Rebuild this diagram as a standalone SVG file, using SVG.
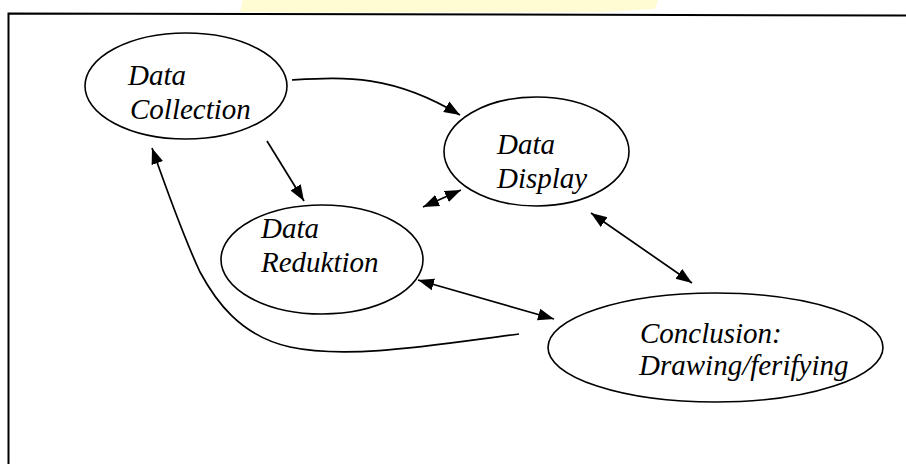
<svg xmlns="http://www.w3.org/2000/svg" width="906" height="464" viewBox="0 0 906 464">
<style>
.node ellipse{fill:none;stroke:#000;stroke-width:1.6}
.node text{font-family:'Liberation Serif','Times New Roman',serif;font-style:italic;font-size:29px;fill:#000}
.conn path{fill:none;stroke:#000;stroke-width:1.7}
</style>
<defs>
<marker id="ah" markerUnits="userSpaceOnUse" markerWidth="18" markerHeight="14" refX="16" refY="7" orient="auto-start-reverse" viewBox="0 0 18 14">
<path d="M0,1 L16,7 L0,13 Z" fill="#000"/>
</marker>
</defs>
<rect width="906" height="464" fill="#fff"/>
<polygon points="243,0 658,0 655,9 600,12 300,12.5 240,12" fill="#fffbd2"/>
<g id="frame" fill="none" stroke="#000" stroke-width="2">
<path d="M8.5,464 L8.5,13.5 L906,15.5"/>
</g>
<g id="n-collection" class="node">
<ellipse cx="186" cy="86" rx="101" ry="53"/>
<text x="128" y="85">Data</text>
<text x="130" y="119">Collection</text>
</g>
<g id="n-display" class="node">
<ellipse cx="536.5" cy="151.5" rx="92.5" ry="54.5"/>
<text x="497" y="154">Data</text>
<text x="497" y="188">Display</text>
</g>
<g id="n-reduktion" class="node">
<ellipse cx="322" cy="259.5" rx="101" ry="54.5"/>
<text x="261" y="238">Data</text>
<text x="261" y="272">Reduktion</text>
</g>
<g id="n-conclusion" class="node">
<ellipse cx="715.5" cy="347.5" rx="167.5" ry="54.5"/>
<text x="640" y="343">Conclusion:</text>
<text x="639" y="375">Drawing/ferifying</text>
</g>
<g id="connectors" class="conn">
<path d="M292,80 C345,77 392,74 460,115" marker-end="url(#ah)"/>
<path d="M267,141 L304,201" marker-end="url(#ah)"/>
<path d="M423,207 L461,190" marker-start="url(#ah)" marker-end="url(#ah)"/>
<path d="M591,213 L692,283" marker-start="url(#ah)" marker-end="url(#ah)"/>
<path d="M418,280 L554,319" marker-start="url(#ah)" marker-end="url(#ah)"/>
<path d="M519,334 C440,344 350,360 290,347 C240,336 215,300 200,272 C185,240 165,185 152,148" marker-end="url(#ah)"/>
</g>
</svg>
